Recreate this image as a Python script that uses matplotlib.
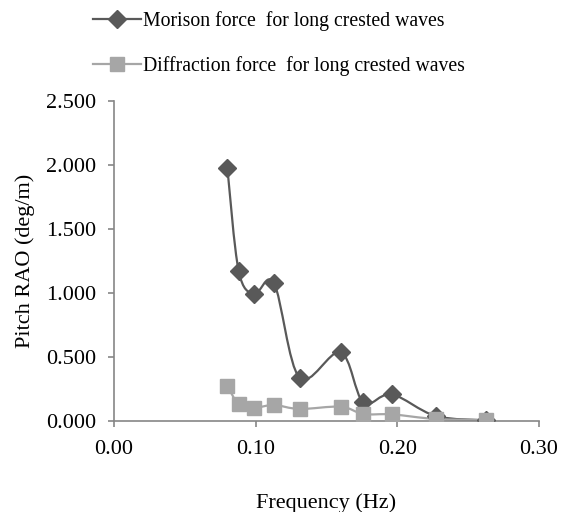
import numpy as np
import matplotlib.pyplot as plt
from matplotlib.path import Path
from matplotlib.patches import PathPatch
from matplotlib.lines import Line2D

plt.rcParams['font.family'] = ['Liberation Serif', 'DejaVu Serif']

freq = [0.080, 0.088, 0.099, 0.113, 0.131, 0.160, 0.176, 0.196, 0.227, 0.263]
morison = [1.980, 1.174, 0.992, 1.076, 0.338, 0.537, 0.146, 0.209, 0.040, 0.005]
diffraction = [0.276, 0.133, 0.104, 0.125, 0.094, 0.112, 0.055, 0.052, 0.016, 0.008]

labels = ['Morison force  for long crested waves',
          'Diffraction force  for long crested waves']
colors = ['#595959', '#a6a6a6']
markers = ['D', 's']
msizes = [9, 10.5]


def smooth_path(x, y):
    # Excel-like smoothed line: Catmull-Rom converted to cubic Bezier segments
    p = np.column_stack([x, y])
    n = len(p)
    verts = [p[0]]
    codes = [Path.MOVETO]
    for i in range(n - 1):
        p0 = p[i - 1] if i > 0 else p[i]
        p1 = p[i]
        p2 = p[i + 1]
        p3 = p[i + 2] if i + 2 < n else p[i + 1]
        c1 = p1 + (p2 - p0) / 6.0
        c2 = p2 - (p3 - p1) / 6.0
        verts += [c1, c2, p2]
        codes += [Path.CURVE4] * 3
    return Path(verts, codes)


fig = plt.figure(figsize=(5.65, 5.12), dpi=100)
ax = fig.add_axes([0.2018, 0.1777, 0.752, 0.625])

series = [morison, diffraction]
for vals, c in zip(series, colors):
    ax.add_patch(PathPatch(smooth_path(freq, vals), facecolor='none',
                           edgecolor=c, lw=1.6, zorder=2))
for vals, c, m, ms in zip(series, colors, markers, msizes):
    ax.plot(freq, vals, linestyle='none', marker=m, color=c, markersize=ms,
            zorder=3)

ax.set_xlim(0, 0.30)
ax.set_ylim(0, 2.5)
ax.set_xticks([0.0, 0.1, 0.2, 0.3])
ax.set_yticks([0, 0.5, 1.0, 1.5, 2.0, 2.5])
ax.xaxis.set_major_formatter(plt.FormatStrFormatter('%.2f'))
ax.yaxis.set_major_formatter(plt.FormatStrFormatter('%.3f'))

for s in ['top', 'right']:
    ax.spines[s].set_visible(False)
for s in ['left', 'bottom']:
    ax.spines[s].set_color('#868686')
    ax.spines[s].set_linewidth(1.2)
ax.tick_params(colors='#868686', labelcolor='black', labelsize=16,
               length=4, width=1.2, direction='out')
ax.tick_params(axis='x', pad=10)
ax.tick_params(axis='y', pad=9)

ax.set_xlabel('Frequency (Hz)', fontsize=16, labelpad=24)
ax.set_ylabel('Pitch RAO (deg/m)', fontsize=16, labelpad=8)

handles = [Line2D([], [], color=c, lw=1.6, marker=m, markersize=ms)
           for c, m, ms in zip(colors, markers, msizes)]
fig.legend(handles, labels, loc='upper left', bbox_to_anchor=(0.14, 1.005),
           frameon=False, fontsize=14.2, handlelength=2.45, handletextpad=0.1,
           labelspacing=1.28, borderaxespad=0.3)

fig.savefig('out.png', dpi=100)
